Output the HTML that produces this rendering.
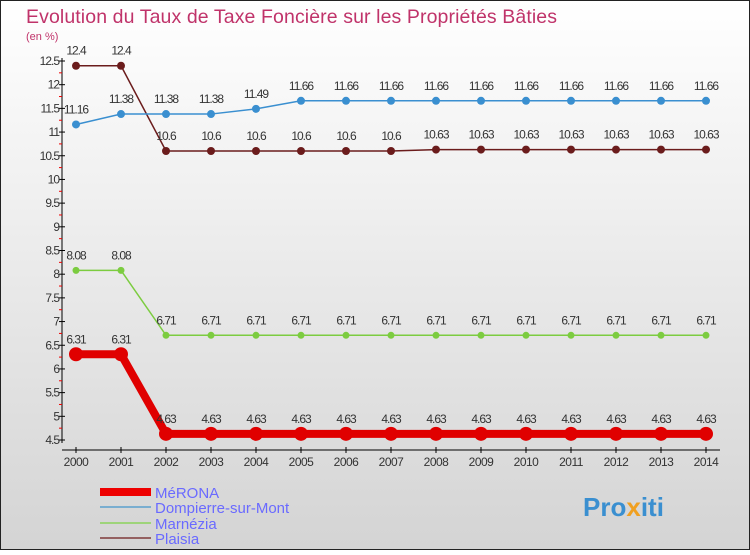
<!DOCTYPE html>
<html><head><meta charset="utf-8"><style>
body{margin:0;width:750px;height:550px;overflow:hidden;font-family:"Liberation Sans",sans-serif}
svg text{font-family:"Liberation Sans",sans-serif}
</style></head><body>
<svg id="c" width="750" height="550" xmlns="http://www.w3.org/2000/svg">
<defs><linearGradient id="bg" x1="0" y1="0" x2="0" y2="1"><stop offset="0" stop-color="#ffffff"/><stop offset="1" stop-color="#d4d4d4"/></linearGradient></defs>
<rect x="0.5" y="0.5" width="749" height="549" fill="url(#bg)" stroke="#222"/>
<text x="26" y="23" font-size="19.5" fill="#c0336a" textLength="531">Evolution du Taux de Taxe Foncière sur les Propriétés Bâties</text>
<text x="26" y="40" font-size="11" fill="#c0336a">(en %)</text>
<g id="axes"></g><g id="series"></g>
<g>
<line x1="100" y1="492" x2="151" y2="492" stroke="#e00" stroke-width="8"/>
<text x="155" y="498" font-size="15" fill="#6a6aff">MéRONA</text>
<line x1="100" y1="507" x2="151" y2="507" stroke="#7aaed0" stroke-width="2"/>
<text x="155" y="513" font-size="15" fill="#6a6aff">Dompierre-sur-Mont</text>
<line x1="100" y1="523" x2="151" y2="523" stroke="#9ed47a" stroke-width="2"/>
<text x="155" y="529" font-size="15" fill="#6a6aff">Marnézia</text>
<line x1="100" y1="538" x2="151" y2="538" stroke="#946060" stroke-width="2"/>
<text x="155" y="544" font-size="15" fill="#6a6aff">Plaisia</text>
</g>
<text x="583" y="516" font-size="26" font-weight="bold" fill="#3a8fd0">Pro<tspan fill="#f0a020">x</tspan>iti</text>
</svg>
<script>
const years=[2000,2001,2002,2003,2004,2005,2006,2007,2008,2009,2010,2011,2012,2013,2014];
const yTicks=[4.5,5,5.5,6,6.5,7,7.5,8,8.5,9,9.5,10,10.5,11,11.5,12,12.5];
const merona=[6.31,6.31,4.63,4.63,4.63,4.63,4.63,4.63,4.63,4.63,4.63,4.63,4.63,4.63,4.63];
const dompierre=[11.16,11.38,11.38,11.38,11.49,11.66,11.66,11.66,11.66,11.66,11.66,11.66,11.66,11.66,11.66];
const marnezia=[8.08,8.08,6.71,6.71,6.71,6.71,6.71,6.71,6.71,6.71,6.71,6.71,6.71,6.71,6.71];
const plaisia=[12.4,12.4,10.6,10.6,10.6,10.6,10.6,10.6,10.63,10.63,10.63,10.63,10.63,10.63,10.63];
const NS="http://www.w3.org/2000/svg";
const X=i=>76+i*45, Y=v=>440-(v-4.5)*(379/8);
function mk(p,t,a){const e=document.createElementNS(NS,t);for(const k in a)e.setAttribute(k,a[k]);p.appendChild(e);return e;}
const ax=document.getElementById('axes');
let l=mk(ax,'line',{x1:62,y1:58,x2:62,y2:443,stroke:'#000'});


l=mk(ax,'line',{x1:62,y1:450,x2:720,y2:450,stroke:'#000'});


yTicks.forEach((v,i)=>{
 const y=Y(v);
 mk(ax,'line',{x1:59,y1:y,x2:65,y2:y,stroke:'#000'});
 if(i<yTicks.length-1){mk(ax,'line',{x1:59,y1:Y(v+0.25),x2:62,y2:Y(v+0.25),stroke:'#e00'});}
 const t=mk(ax,'text',{x:59,y:y+4,'font-size':12,'text-anchor':'end',fill:'#333','letter-spacing':'-1'});
 t.textContent=String(v);
 
 
});
years.forEach((yr,i)=>{
 mk(ax,'line',{x1:X(i),y1:447,x2:X(i),y2:453,stroke:'#000'});
 const t=mk(ax,'text',{x:X(i),y:466,'font-size':12,'text-anchor':'middle',fill:'#333','letter-spacing':'-0.5'});
 t.textContent=yr;
 
 
});
const sg=document.getElementById('series');
function series(name,data,color,w,r){
 const g=mk(sg,'g',{});
 
 
 const pl=mk(g,'polyline',{points:data.map((v,i)=>X(i)+','+Y(v)).join(' '),fill:'none',stroke:color,'stroke-width':w});
 
 
 data.forEach((v,i)=>{
  const c=mk(g,'circle',{cx:X(i),cy:Y(v),r:r,fill:color});
  
  
  const t=mk(g,'text',{x:X(i),y:Y(v)-11,'font-size':12,'text-anchor':'middle',fill:'#333','letter-spacing':'-1'});
  t.textContent=String(v);
  
  
 });
}
series('plaisia',plaisia,'#6b1c1c',1.5,4);
series('dompierre',dompierre,'#3a8fd0',1.5,4);
series('marnezia',marnezia,'#7ccc40',1.5,3.5);
series('merona',merona,'#e00000',8,7);
</script>
</body></html>
